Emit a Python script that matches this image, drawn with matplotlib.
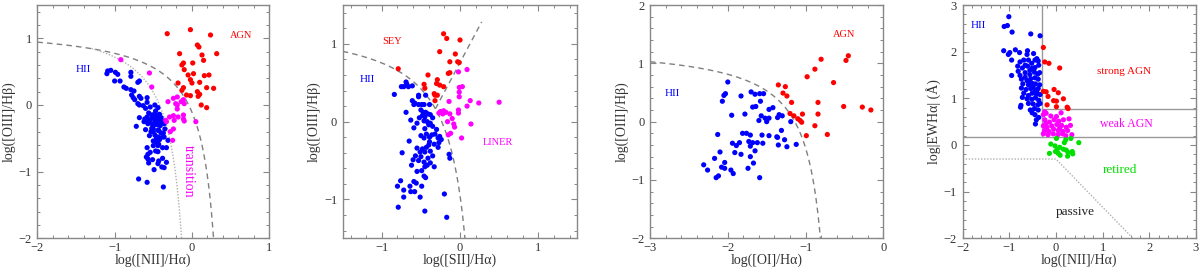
import numpy as np
import matplotlib
matplotlib.use("Agg")
import matplotlib.pyplot as plt
from matplotlib.ticker import MultipleLocator

plt.rcParams['font.family'] = ['Liberation Serif', 'DejaVu Serif']
plt.rcParams['axes.unicode_minus'] = True

# ---------------- data: panel 1 (NII BPT) ----------------
p1_hii = [(-1.10,0.47),(-1.09,0.51),(-1.05,0.52),(-0.99,0.49),(-0.96,0.46),(-1.00,0.36),(-0.93,0.36),
          (-0.79,0.49),(-0.79,0.43),(-0.70,0.34),(-0.68,0.36),(-0.88,0.27),(-0.85,0.25),(-0.79,0.23),
          (-0.75,0.21),(-0.78,0.15),(-0.76,0.11),(-0.74,0.08),(-0.68,0.13),(-0.66,0.10),(-0.58,0.11),
          (-0.58,0.04),(-0.70,0.02),(-0.68,0.00),(-0.63,-0.01),(-0.60,-0.05),(-0.54,-0.03),(-0.48,0.00),
          (-0.44,-0.04),(-0.47,-0.09),(-0.68,-0.19),(-0.61,-0.21),(-0.57,-0.25),
          (-0.56,-0.12),(-0.52,-0.15),(-0.48,-0.13),(-0.45,-0.18),(-0.42,-0.14),(-0.50,-0.20),(-0.54,-0.22),
          (-0.47,-0.23),(-0.43,-0.22),(-0.40,-0.19),(-0.38,-0.24),(-0.52,-0.28),(-0.49,-0.30),(-0.45,-0.27),
          (-0.41,-0.31),(-0.36,-0.28),(-0.58,-0.18),(-0.50,-0.36),(-0.44,-0.38),(-0.40,-0.42),(-0.46,-0.50),
          (-0.42,-0.52),(-0.53,-0.40),(-0.38,-0.48),(-0.35,-0.36),
          (-0.72,-0.32),(-0.62,-0.25),(-0.57,-0.28),(-0.48,-0.27),(-0.44,-0.30),(-0.39,-0.26),(-0.60,-0.37),
          (-0.52,-0.35),(-0.50,-0.40),(-0.43,-0.38),(-0.37,-0.42),(-0.55,-0.46),(-0.48,-0.45),(-0.44,-0.48),
          (-0.36,-0.48),(-0.31,-0.53),(-0.50,-0.54),(-0.46,-0.56),(-0.43,-0.59),(-0.50,-0.61),(-0.44,-0.61),
          (-0.58,-0.64),(-0.38,-0.64),(-0.33,-0.64),(-0.47,-0.69),(-0.44,-0.70),(-0.54,-0.71),(-0.57,-0.74),
          (-0.59,-0.78),(-0.57,-0.81),(-0.51,-0.82),(-0.43,-0.84),(-0.38,-0.80),(-0.33,-0.86),(-0.44,-0.88),
          (-0.56,-0.87),(-0.39,-0.93),(-0.36,-0.94),(-0.49,-0.97),(-0.69,-1.11),(-0.58,-1.16),(-0.37,-1.23)]
p1_trans = [(-0.92,0.68),(-0.55,0.48),(-0.52,0.27),(-0.31,0.05),(-0.24,0.10),(-0.19,0.12),(-0.21,0.02),
            (-0.19,0.00),(-0.14,0.05),(-0.11,0.08),(-0.10,0.02),(-0.19,-0.06),(-0.29,-0.18),(-0.24,-0.16),
            (-0.18,-0.18),(-0.11,-0.15),(-0.11,-0.21),(-0.34,-0.23),(-0.33,-0.25),(-0.23,-0.23),
            (-0.24,-0.36),(-0.28,-0.40),(-0.25,-0.53),(-0.10,-0.24),(0.05,-0.25)]
p1_agn = [(-0.32,1.07),(-0.02,1.13),(0.24,1.05),(0.07,0.90),(0.09,0.87),(0.32,0.77),(-0.16,0.77),
          (0.13,0.75),(0.15,0.67),(-0.11,0.63),(-0.13,0.60),(0.01,0.63),(-0.10,0.53),(0.02,0.47),
          (-0.05,0.45),(0.16,0.44),(0.22,0.45),(-0.02,0.38),(0.10,0.34),(-0.18,0.33),(0.00,0.33),
          (0.19,0.26),(0.28,0.25),(-0.11,0.26),(-0.13,0.22),(0.07,0.20),(-0.07,0.15),(-0.02,0.14),
          (0.08,0.13),(0.10,0.16),(0.12,0.00),(0.19,-0.04)]

# ---------------- data: panel 2 (SII BPT) ----------------
p2_hii = [(-0.84,0.35),(-0.72,0.45),(-0.69,0.51),(-0.68,0.48),(-0.75,0.45),(-0.66,0.45),(-0.61,0.46),
          (-0.53,0.34),(-0.53,0.32),(-0.44,0.34),(-0.61,0.27),(-0.58,0.24),(-0.59,0.22),(-0.69,0.12),
          (-0.53,0.22),(-0.49,0.22),(-0.46,0.22),(-0.39,0.22),(-0.50,0.15),(-0.47,0.12),(-0.44,0.12),
          (-0.41,0.10),(-0.48,0.08),(-0.45,0.06),(-0.38,0.09),(-0.35,0.05),(-0.46,0.01),(-0.42,0.00),
          (-0.38,-0.02),(-0.40,-0.04),(-0.45,-0.09),(-0.35,-0.06),(-0.59,-0.08),(-0.50,-0.18),
          (-0.46,-0.21),(-0.43,-0.16),(-0.39,-0.20),(-0.36,-0.17),(-0.32,-0.16),(-0.28,-0.21),
          (-0.26,-0.19),(-0.24,-0.23),(-0.27,-0.27),(-0.33,-0.29),(-0.39,-0.26),(-0.65,-0.25),
          (-0.43,-0.33),(-0.48,-0.35),(-0.55,-0.34),(-0.51,-0.39),(-0.45,-0.39),(-0.38,-0.38),
          (-0.57,-0.44),(-0.60,-0.49),(-0.53,-0.50),(-0.46,-0.52),(-0.42,-0.56),(-0.38,-0.53),
          (-0.33,-0.58),(-0.14,-0.42),(-0.13,-0.47),(-0.74,-0.40),(-0.45,-0.58),(-0.49,-0.63),
          (-0.55,-0.64),(-0.46,-0.70),(-0.44,-0.72),(-0.59,-0.77),(-0.56,-0.79),(-0.64,-0.83),
          (-0.76,-0.76),(-0.80,-0.83),(-0.72,-0.88),(-0.49,-0.83),(-0.58,-0.90),(-0.51,-0.97),
          (-0.72,-0.97),(-0.63,-0.90),(-0.20,-0.93),(-0.79,-1.10),(-0.45,-1.15),(-0.17,-1.23),
          (-0.30,-0.10),(-0.52,0.05),(-0.55,-0.02),(-0.63,0.02),(-0.40,-0.30),(-0.35,-0.44),
          (-0.28,-0.33),(-0.62,-0.56),(-0.50,-0.45),(-0.41,-0.47)]
p2_liner = [(0.09,0.67),(-0.02,0.64),(0.03,0.45),(-0.01,0.44),(-0.01,0.38),(-0.01,0.32),(-0.14,0.26),
            (0.13,0.27),(0.24,0.24),(0.50,0.25),(0.09,0.20),(-0.25,0.13),(-0.21,0.14),(-0.18,0.12),
            (-0.22,0.10),(-0.27,0.11),(-0.13,0.10),(-0.02,0.15),(-0.02,0.11),(-0.10,0.04),(-0.16,0.00),
            (-0.08,-0.03),(-0.07,-0.07),(0.14,-0.03),(-0.12,-0.15),(-0.15,-0.17),(0.02,-0.21)]
p2_sey = [(-0.21,1.13),(-0.17,1.07),(0.00,1.05),(-0.26,0.90),(-0.06,0.87),(-0.13,0.77),(-0.03,0.77),
          (-0.01,0.76),(-0.13,0.63),(-0.15,0.62),(-0.79,0.68),(-0.41,0.60),(-0.29,0.54),(-0.30,0.49),
          (-0.46,0.48),(-0.45,0.43),(-0.26,0.47),(-0.21,0.45),(-0.33,0.36),(-0.32,0.34),(-0.29,0.34),
          (-0.32,0.27)]

# ---------------- data: panel 3 (OI BPT) ----------------
p3_hii = [(-2.00,0.68),(-2.03,0.48),(-2.05,0.45),(-2.07,0.35),(-1.83,0.44),(-1.70,0.51),(-1.65,0.47),
          (-1.59,0.48),(-1.54,0.48),(-1.58,0.35),(-1.68,0.25),(-1.64,0.26),(-1.47,0.21),(-1.42,0.24),
          (-1.95,0.11),(-1.78,0.13),(-1.57,0.10),(-1.52,0.06),(-1.47,0.06),(-1.50,0.00),(-1.60,0.02),
          (-1.36,0.07),(-1.34,0.12),(-1.19,0.00),(-1.31,-0.15),(-1.37,-0.26),(-1.35,-0.40),(-1.24,-0.43),
          (-1.27,-0.31),(-1.12,-0.39),(-1.47,-0.24),(-1.56,-0.23),(-1.62,-0.36),(-1.55,-0.37),
          (-1.68,-0.36),(-1.71,-0.42),(-1.65,-0.50),(-1.73,-0.34),(-1.81,-0.20),(-1.76,-0.20),
          (-1.71,-0.23),(-1.71,-0.60),(-1.67,-0.71),(-1.83,-0.56),(-1.91,-0.53),(-1.89,-0.41),
          (-1.94,-0.37),(-1.85,-0.36),(-2.13,-0.22),(-2.10,-0.52),(-2.17,-0.63),(-2.04,-0.70),
          (-2.08,-0.78),(-2.04,-0.80),(-1.96,-0.83),(-1.93,-0.89),(-2.31,-0.74),(-2.26,-0.83),
          (-2.15,-0.96),(-2.12,-0.93),(-1.74,-0.80),(-1.59,-0.96),(-1.30,0.10),(-1.36,-0.27)]
p3_agn = [(-0.80,1.07),(-0.45,1.13),(-0.48,1.05),(-0.88,0.90),(-0.98,0.77),(-0.64,0.67),(-1.35,0.63),
          (-1.26,0.60),(-1.29,0.49),(-1.24,0.44),(-1.18,0.33),(-0.84,0.33),(-0.51,0.26),(-0.27,0.25),
          (-0.16,0.20),(-1.20,0.14),(-1.15,0.10),(-1.04,0.13),(-0.84,0.13),(-1.10,0.05),(-1.07,0.02),
          (-1.05,-0.01),(-0.88,-0.07),(-0.99,-0.24),(-0.72,-0.22)]

# ---------------- data: panel 4 (WHAN) ----------------
p4_hii = [(-1.01,2.75),(-1.04,2.56),(-1.11,2.54),(-0.94,2.42),(-0.54,2.38),(-0.34,2.34),(-1.12,2.02),
          (-0.99,1.98),(-1.02,1.94),(-0.87,2.04),(-0.78,1.98),(-0.61,2.02),(-0.62,1.94),(-0.48,1.96),
          (-0.95,1.82),(-0.77,1.78),(-0.69,1.82),(-0.59,1.82),(-0.52,1.75),(-0.45,1.82),(-0.41,1.85),
          (-0.38,1.80),(-0.82,1.69),(-0.72,1.65),(-0.61,1.69),(-0.52,1.64),(-0.45,1.66),(-0.37,1.71),
          (-0.81,1.58),(-0.77,1.49),(-0.66,1.55),(-0.56,1.51),(-0.46,1.56),(-0.39,1.52),(-0.35,1.55),
          (-0.95,1.49),(-0.74,1.41),(-0.62,1.38),(-0.54,1.42),(-0.45,1.44),(-0.38,1.41),(-0.71,1.31),
          (-0.59,1.29),(-0.51,1.32),(-0.44,1.31),(-0.35,1.29),(-0.74,1.22),(-0.64,1.19),(-0.54,1.21),
          (-0.45,1.18),(-0.38,1.21),(-0.69,1.11),(-0.59,1.06),(-0.51,1.11),(-0.42,1.09),(-0.34,1.08),
          (-0.72,1.02),(-0.62,0.99),(-0.52,0.98),(-0.44,1.01),(-0.37,0.96),(-0.75,0.85),(-0.76,0.81),
          (-0.59,0.89),(-0.49,0.88),(-0.39,0.86),(-0.34,0.89),(-0.46,0.78),(-0.38,0.75),(-0.45,0.65),
          (-0.37,0.59),(-0.42,0.54),(-0.44,0.45),(-0.55,0.75),(-0.51,0.69),(-0.66,1.71),(-0.56,1.60),
          (-0.49,1.25),(-0.41,1.15),(-0.66,1.45),(-0.58,1.35)]
p4_sagn = [(-0.27,2.09),(-0.24,1.78),(-0.15,1.75),(0.08,1.65),(-0.27,1.15),(-0.21,1.14),(-0.04,1.19),
           (0.05,1.12),(-0.17,1.04),(-0.05,0.95),(0.01,0.94),(0.16,0.99),(-0.19,0.86),(0.01,0.82),
           (0.24,0.81),(0.26,0.78)]
p4_wagn = [(-0.24,0.71),(-0.27,0.65),(-0.21,0.68),(-0.11,0.62),(0.01,0.61),(0.11,0.69),(0.28,0.56),
           (-0.24,0.54),(-0.14,0.49),(-0.04,0.54),(0.06,0.51),(0.16,0.54),(-0.27,0.41),(-0.19,0.38),
           (-0.09,0.41),(0.02,0.44),(0.12,0.42),(0.22,0.38),(0.31,0.42),(-0.24,0.31),(-0.15,0.29),
           (-0.05,0.34),(0.05,0.31),(0.15,0.29),(0.25,0.31),(-0.27,0.24),(-0.17,0.22),(-0.06,0.24),
           (0.04,0.22),(0.14,0.24),(0.21,0.20),(0.34,0.22),(-0.22,0.46),(0.08,0.36)]
p4_ret = [(0.01,0.14),(0.21,0.11),(0.18,0.05),(0.32,0.14),(0.49,0.05),(-0.11,0.02),(-0.02,-0.02),
          (0.08,-0.05),(0.02,-0.11),(0.05,-0.18),(0.16,-0.09),(0.22,-0.11),(0.26,-0.16),(0.35,-0.14),
          (-0.14,-0.18),(-0.01,-0.14),(0.09,-0.22),(0.25,-0.24),(0.36,-0.19)]

RED, BLUE, MAG, GRN = '#ff0000', '#0000ff', '#ff00ff', '#00e000'
GREY = '#888888'

fig = plt.figure(figsize=(12, 2.68), dpi=100)
positions = [[0.0311, 0.1108, 0.1933, 0.8705],
             [0.2856, 0.1108, 0.1955, 0.8705],
             [0.5417, 0.1108, 0.1944, 0.8705],
             [0.8022, 0.1108, 0.1944, 0.8705]]
axes = [fig.add_axes(p) for p in positions]


def style(ax, xlim, ylim, xlabel, ylabel):
    ax.set_xlim(*xlim)
    ax.set_ylim(*ylim)
    ax.xaxis.set_major_locator(MultipleLocator(1))
    ax.yaxis.set_major_locator(MultipleLocator(1))
    ax.xaxis.set_minor_locator(MultipleLocator(0.2))
    ax.yaxis.set_minor_locator(MultipleLocator(0.2))
    ax.tick_params(which='both', direction='in', top=True, right=True, color=GREY,
                   labelsize=9, labelcolor='#333333')
    ax.tick_params(axis='x', pad=3)
    ax.tick_params(axis='y', pad=4)
    ax.tick_params(which='major', length=4.5, width=0.8)
    ax.tick_params(which='minor', length=2.2, width=0.7)
    for s in ax.spines.values():
        s.set_color(GREY)
        s.set_linewidth(1.0)
    ax.set_xlabel(xlabel, fontsize=10, color='#333333', labelpad=-0.5)
    ax.set_ylabel(ylabel, fontsize=10, color='#333333', labelpad=2)


def pts(ax, data, color):
    a = np.array(data)
    ax.scatter(a[:, 0], a[:, 1], s=14, color=color, edgecolors='none', zorder=3)


def label(ax, x, y, s, color, size=7.5, **kw):
    ax.text(x, y, s, color=color, fontsize=size, ha='center', va='center', **kw)


dash = dict(color='#808080', lw=1.0, linestyle=(0, (4, 3)), zorder=2)
dots = dict(color='#b0b0b0', lw=1.0, linestyle=(0, (1, 1.2)), zorder=2)

# Panel 1
ax = axes[0]
style(ax, (-2, 1), (-2, 1.5), 'log([NII]/Hα)', 'log([OIII]/Hβ)')
x = np.linspace(-2, 0.279, 400)
ax.plot(x, 0.61 / (x - 0.47) + 1.19, **dash)
x = np.linspace(-1.3, -0.135, 300)
ax.plot(x, 0.61 / (x - 0.05) + 1.3, **dots)
pts(ax, p1_hii, BLUE); pts(ax, p1_trans, MAG); pts(ax, p1_agn, RED)
label(ax, 0.64, 1.05, 'AGN', RED)
label(ax, -1.40, 0.53, 'HII', BLUE, 8)
label(ax, -0.05, -0.99, 'transition', MAG, 10, rotation=-90)

# Panel 2
ax = axes[1]
style(ax, (-1.5, 1.5), (-1.5, 1.5), 'log([SII]/Hα)', 'log([OIII]/Hβ)')
x = np.linspace(-1.5, 0.063, 400)
ax.plot(x, 0.72 / (x - 0.32) + 1.30, **dash)
x = np.linspace(-0.315, 0.277, 50)
ax.plot(x, 1.89 * x + 0.76, **dash)
pts(ax, p2_hii, BLUE); pts(ax, p2_liner, MAG); pts(ax, p2_sey, RED)
label(ax, -0.87, 1.03, 'SEY', RED)
label(ax, -1.19, 0.54, 'HII', BLUE, 8)
label(ax, 0.49, -0.27, 'LINER', MAG)

# Panel 3
ax = axes[2]
style(ax, (-3, 0), (-2, 2), 'log([OI]/Hα)', 'log([OIII]/Hβ)')
x = np.linspace(-3, -0.809, 400)
ax.plot(x, 0.73 / (x + 0.59) + 1.33, **dash)
pts(ax, p3_hii, BLUE); pts(ax, p3_agn, RED)
label(ax, -0.50, 1.50, 'AGN', RED)
label(ax, -2.72, 0.49, 'HII', BLUE, 8)

# Panel 4
ax = axes[3]
style(ax, (-2, 3), (-2, 3), 'log([NII]/Hα)', 'log|EWHα| (Å)')
solid = dict(color='#999999', lw=1.0, zorder=2)
ax.plot([-0.3, -0.3], [np.log10(1.5), 3], **solid)
ax.plot([-2, 3], [np.log10(1.5), np.log10(1.5)], **solid)
ax.plot([-0.3, 3], [np.log10(6), np.log10(6)], **solid)
ax.plot([-2, 0, 1.65], [np.log10(0.5), np.log10(0.5), -2], **dots)
pts(ax, p4_hii, BLUE); pts(ax, p4_sagn, RED); pts(ax, p4_wagn, MAG); pts(ax, p4_ret, GRN)
label(ax, -1.66, 2.57, 'HII', BLUE, 8)
label(ax, 1.45, 1.57, 'strong AGN', RED, 8)
label(ax, 1.52, 0.46, 'weak AGN', MAG, 8.5)
label(ax, 1.37, -0.54, 'retired', GRN, 9.5)
label(ax, 0.41, -1.43, 'passive', '#222222', 9.5)

fig.savefig('out.png', dpi=100)
